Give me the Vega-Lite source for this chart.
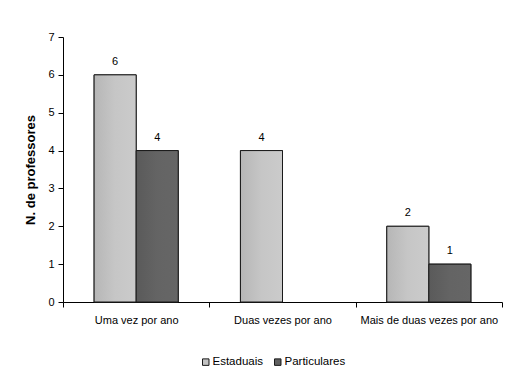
{
  "$schema": "https://vega.github.io/schema/vega-lite/v6.json",
  "width": 439,
  "height": 265,
  "autosize": {"type": "none"},
  "padding": {"left": 63, "top": 37, "right": 22, "bottom": 69},
  "background": "white",
  "config": {
    "font": "Liberation Sans",
    "view": {"stroke": null},
    "axis": {
      "domainColor": "#000000",
      "tickColor": "#000000",
      "labelColor": "#000000",
      "titleColor": "#000000",
      "labelFont": "Liberation Sans",
      "labelFontSize": 11,
      "tickSize": 5,
      "grid": false
    }
  },
  "data": {
    "values": [
      {"frequencia": "Uma vez por ano", "rede": "Estaduais", "n": 6},
      {"frequencia": "Uma vez por ano", "rede": "Particulares", "n": 4},
      {"frequencia": "Duas vezes por ano", "rede": "Estaduais", "n": 4},
      {"frequencia": "Mais de duas vezes por ano", "rede": "Estaduais", "n": 2},
      {"frequencia": "Mais de duas vezes por ano", "rede": "Particulares", "n": 1}
    ]
  },
  "encoding": {
    "x": {
      "field": "frequencia",
      "type": "nominal",
      "sort": null,
      "scale": {"paddingInner": 0, "paddingOuter": 0},
      "axis": {
        "title": null,
        "labelAngle": 0,
        "tickBand": "extent",
        "labelPadding": 7
      }
    },
    "xOffset": {
      "field": "rede",
      "type": "nominal",
      "scale": {"paddingInner": 0, "paddingOuter": 0.74}
    },
    "y": {
      "field": "n",
      "type": "quantitative",
      "scale": {"domain": [0, 7], "nice": false},
      "axis": {
        "title": "N. de professores",
        "titleFont": "Liberation Sans",
        "titleFontSize": 13,
        "titleFontWeight": "bold",
        "titlePadding": 10,
        "values": [0, 1, 2, 3, 4, 5, 6, 7],
        "labelPadding": 4
      }
    }
  },
  "layer": [
    {
      "mark": {"type": "bar", "stroke": "#1a1a1a", "strokeWidth": 1},
      "encoding": {
        "color": {
          "field": "rede",
          "type": "nominal",
          "scale": {"domain": ["Estaduais", "Particulares"], "range": ["#c2c2c2", "#606060"]},
          "legend": {
            "title": null,
            "orient": "none",
            "direction": "horizontal",
            "legendX": 137,
            "legendY": 319,
            "symbolType": "square",
            "symbolSize": 42,
            "symbolStrokeColor": "#1a1a1a",
            "symbolStrokeWidth": 1,
            "symbolOpacity": 1,
            "labelFont": "Liberation Sans",
            "labelFontSize": 11.5,
            "labelColor": "#000000",
            "labelOffset": 1,
            "columnPadding": 8
          }
        }
      }
    },
    {
      "transform": [{"filter": "datum.rede === 'Estaduais'"}],
      "mark": {
        "type": "bar",
        "stroke": "#1a1a1a",
        "strokeWidth": 1,
        "fill": {
          "gradient": "linear",
          "x1": 0, "y1": 0, "x2": 1, "y2": 0,
          "stops": [
            {"offset": 0, "color": "#b6b6b6"},
            {"offset": 0.5, "color": "#c6c6c6"},
            {"offset": 1, "color": "#cbcbcb"}
          ]
        }
      }
    },
    {
      "transform": [{"filter": "datum.rede === 'Particulares'"}],
      "mark": {
        "type": "bar",
        "stroke": "#1a1a1a",
        "strokeWidth": 1,
        "fill": {
          "gradient": "linear",
          "x1": 0, "y1": 0, "x2": 1, "y2": 0,
          "stops": [
            {"offset": 0, "color": "#5a5a5a"},
            {"offset": 0.5, "color": "#646464"},
            {"offset": 1, "color": "#666666"}
          ]
        }
      }
    },
    {
      "mark": {
        "type": "text",
        "baseline": "middle",
        "dy": -13,
        "fontSize": 11,
        "font": "Liberation Sans",
        "fill": "#000000"
      },
      "encoding": {
        "text": {"field": "n", "type": "quantitative"}
      }
    }
  ]
}
